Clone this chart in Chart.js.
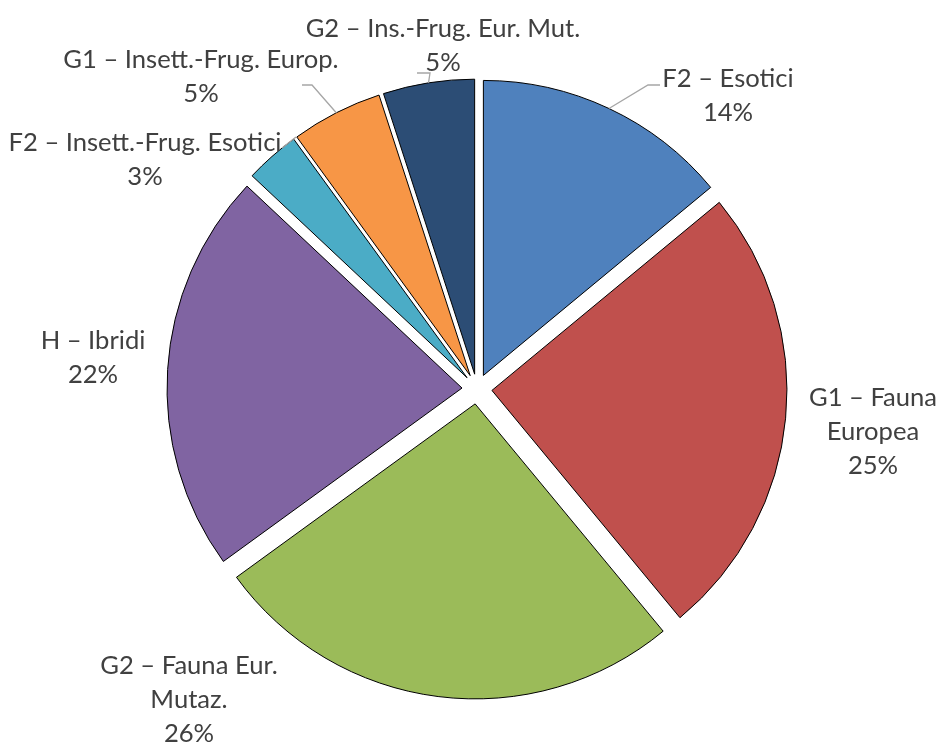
<!DOCTYPE html>
<html><head><meta charset="utf-8">
<script src="https://cdn.jsdelivr.net/npm/chart.js@4.4.0/dist/chart.umd.min.js"></script>
<style>html,body{margin:0;padding:0;background:#fff;} #wrap{width:939px;height:745px;}</style>
</head><body><div id="wrap"><canvas id="c" width="939" height="745"></canvas></div>
<script>
// ---- data ----
const categories = [
  'F2 – Esotici',
  'G1 – Fauna Europea',
  'G2 – Fauna Eur. Mutaz.',
  'H – Ibridi',
  'F2 – Insett.-Frug. Esotici',
  'G1 – Insett.-Frug. Europ.',
  'G2 – Ins.-Frug. Eur. Mut.'
];
const values = [14, 25, 26, 22, 3, 5, 5];
const colors = ['#4F81BD', '#C0504D', '#9BBB59', '#8064A2', '#4BACC6', '#F79646', '#2C4D75'];

// ---- label layout (pixels relative to pie centre; first-line baseline) ----
const labelLayout = [
  { dx: 251, dy: -302, wrap: 400, leader: [[183, -304], [171, -304]] },
  { dx: 396, dy: 17, wrap: 150 },
  { dx: -288, dy: 285, wrap: 200 },
  { dx: -384, dy: -40, wrap: 400 },
  { dx: -332, dy: -238, wrap: 400, leader: [[-195, -241], [-181, -252]], noArc: true },
  { dx: -276, dy: -321, wrap: 400, leader: [[-175, -304], [-165, -304]] },
  { dx: -34, dy: -352, wrap: 400, leader: [[-60, -316], [-47, -316]] }
];

const EXPLODE = 15;
const FONT = '25.6px Lato';
const LINE_H = 34;

const explodePlugin = {
  id: 'explode',
  beforeDatasetDraw(chart, args) {
    const ctx = chart.ctx;
    args.meta.data.forEach(arc => {
      const mid = (arc.startAngle + arc.endAngle) / 2;
      ctx.save();
      ctx.translate(Math.cos(mid) * EXPLODE, Math.sin(mid) * EXPLODE);
      arc.draw(ctx);
      ctx.restore();
    });
    return false;
  }
};

function wrapText(ctx, text, maxW) {
  const words = text.split(' ');
  const lines = [];
  let cur = '';
  words.forEach(w => {
    const t = cur ? cur + ' ' + w : w;
    if (cur && ctx.measureText(t).width > maxW) { lines.push(cur); cur = w; }
    else cur = t;
  });
  if (cur) lines.push(cur);
  return lines;
}

const labelPlugin = {
  id: 'pieLabels',
  afterDraw(chart) {
    const ctx = chart.ctx;
    const meta = chart.getDatasetMeta(0);
    const total = values.reduce((a, b) => a + b, 0);
    ctx.save();
    ctx.font = FONT;
    meta.data.forEach((arc, i) => {
      const cx = arc.x, cy = arc.y;
      const L = labelLayout[i];
      const mid = (arc.startAngle + arc.endAngle) / 2;
      if (L.leader) {
        ctx.strokeStyle = '#A6A6A6';
        ctx.lineWidth = 1.3;
        ctx.beginPath();
        L.leader.forEach((p, k) => {
          if (k === 0) ctx.moveTo(cx + p[0], cy + p[1]);
          else ctx.lineTo(cx + p[0], cy + p[1]);
        });
        if (!L.noArc) {
          const r = arc.outerRadius;
          ctx.lineTo(cx + Math.cos(mid) * (r + EXPLODE), cy + Math.sin(mid) * (r + EXPLODE));
        }
        ctx.stroke();
      }
      const lines = wrapText(ctx, categories[i], L.wrap);
      lines.push(Math.round(values[i] / total * 100) + '%');
      ctx.fillStyle = '#404040';
      ctx.textAlign = 'center';
      ctx.textBaseline = 'alphabetic';
      lines.forEach((ln, k) => ctx.fillText(ln, cx + L.dx, cy + L.dy + k * LINE_H));
    });
    ctx.restore();
  }
};

new Chart(document.getElementById('c'), {
  type: 'pie',
  data: {
    labels: categories,
    datasets: [{
      data: values,
      backgroundColor: colors,
      borderColor: '#000000',
      borderWidth: 1,
      borderJoinStyle: 'miter'
    }]
  },
  options: {
    responsive: false,
    animation: false,
    radius: 295,
    layout: { padding: { left: 15, top: 33, right: 0, bottom: 0 } },
    plugins: { legend: { display: false }, tooltip: { enabled: false } }
  },
  plugins: [explodePlugin, labelPlugin]
});
</script>
</body></html>
